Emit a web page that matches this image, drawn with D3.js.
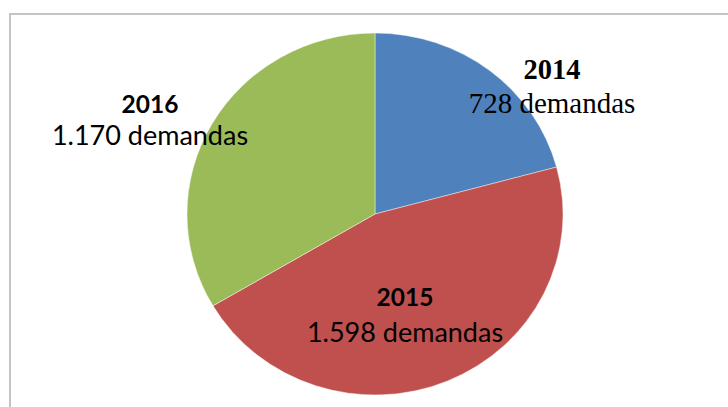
<!DOCTYPE html>
<html lang="es">

<head>
	<meta charset="UTF-8">
	<title>Demandas por año</title>

	<style>
		body { margin: 0; background: #fff; }
		svg { display: block; }
	</style>

	<script src="https://d3js.org/d3.v7.min.js"></script>

</head>

<body>

	<script type="text/javascript">
		const width = 728
		const height = 407

//data
		const years = ["2014", "2015", "2016"]
		const demandas = [728, 1598, 1170]
		const valueLabels = ["728 demandas", "1.598 demandas", "1.170 demandas"]
		const sliceColors = ["#4F81BD", "#C0504D", "#9BBB59"]

//label layout (offsets from the pie centre, Excel placed them by hand)
		const labelLayout = [
			{dx: 177, dy: -135, gap: 34, serif: true},
			{dx: 30, dy: 92, gap: 36, serif: false},
			{dx: -225, dy: -101, gap: 32, serif: false}
		]

		const cx = 375, cy = 214, rx = 188, ry = 181

		const svg = d3.select("body").append("svg")
			.attr("width", width)
			.attr("height", height)

//chart frame, runs off the right and bottom edges
		svg.append("rect")
			.attr("x", 10)
			.attr("y", 14)
			.attr("width", 800)
			.attr("height", 500)
			.style("fill", "none")
			.style("stroke", "#c4c4c4")
			.style("stroke-width", 2)

		const color = d3.scaleOrdinal().domain(years).range(sliceColors)

		const pie = d3.pie().sort(null).value(function(d) { return d.value })
		const arcs = pie(years.map(function(y, i) { return {year: y, value: demandas[i]} }))

		const arc = d3.arc().innerRadius(0).outerRadius(rx)

//slightly squashed pie, like the picture
		const g = svg.append("g")
			.attr("transform", "translate(" + cx + "," + cy + ") scale(1," + (ry / rx) + ")")

		g.selectAll(".slice")
			.data(arcs)
			.join("path")
			.attr("class", "slice")
			.attr("d", arc)
			.style("fill", function(d) { return color(d.data.year) })
			.style("stroke", "rgba(255,255,255,0.45)")
			.style("stroke-width", 1)

//labels
		const labels = svg.selectAll(".lbl")
			.data(arcs)
			.join("text")
			.attr("class", "lbl")
			.attr("text-anchor", "middle")
			.attr("x", function(d, i) { return cx + labelLayout[i].dx })
			.attr("y", function(d, i) { return cy + labelLayout[i].dy })
			.style("fill", "#000")
			.style("font-family", function(d, i) { return labelLayout[i].serif ? "'Liberation Serif', 'Times New Roman', serif" : "Lato, 'Open Sans', sans-serif" })

		labels.append("tspan")
			.attr("x", function(d, i) { return cx + labelLayout[i].dx })
			.style("font-weight", "bold")
			.style("font-size", function(d, i) { return labelLayout[i].serif ? "28.5px" : "24.5px" })
			.text(function(d) { return d.data.year })

		labels.append("tspan")
			.attr("x", function(d, i) { return cx + labelLayout[i].dx })
			.attr("dy", function(d, i) { return labelLayout[i].gap })
			.style("font-size", function(d, i) { return labelLayout[i].serif ? "29px" : "27px" })
			.text(function(d, i) { return valueLabels[i] })
	</script>

</body>

</html>
